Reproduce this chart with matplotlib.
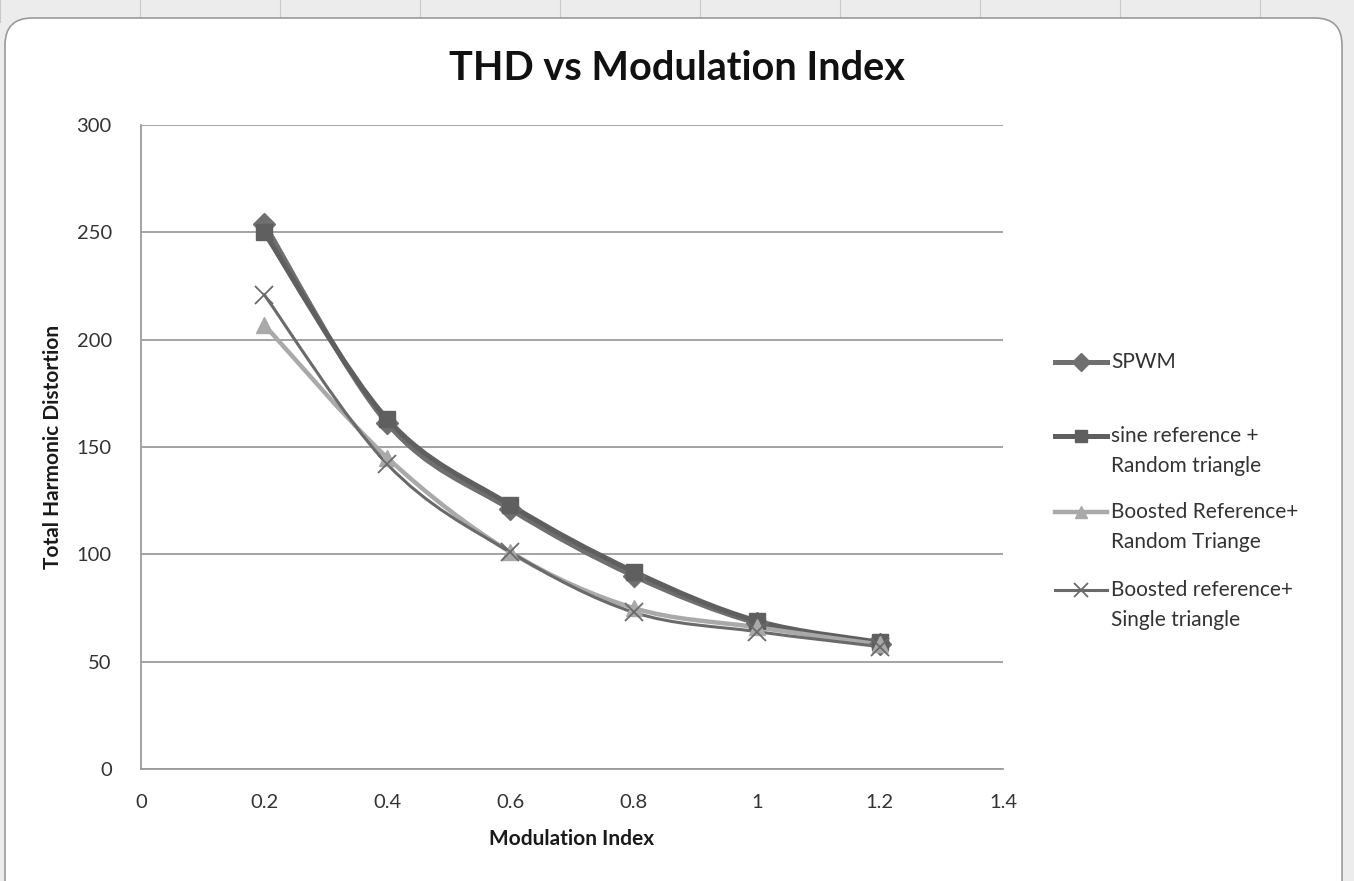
import numpy as np
import matplotlib
matplotlib.use("Agg")
import matplotlib.pyplot as plt
from matplotlib.path import Path
from matplotlib.patches import PathPatch, FancyBboxPatch
from matplotlib.lines import Line2D

plt.rcParams["font.family"] = ["Lato", "DejaVu Sans"]

mod_index = [0.2, 0.4, 0.6, 0.8, 1.0, 1.2]
spwm = [254, 161, 121, 90, 68, 58]
sine_random = [250, 163, 123, 92, 69, 59]
boosted_random = [207, 145, 101, 75, 66, 58]
boosted_single = [221, 142, 101, 73, 64, 57]

labels = [
    "SPWM",
    "sine reference +\nRandom triangle",
    "Boosted Reference+\nRandom Triange",
    "Boosted reference+\nSingle triangle",
]
x_ticks = [0, 0.2, 0.4, 0.6, 0.8, 1, 1.2, 1.4]
y_ticks = [0, 50, 100, 150, 200, 250, 300]


def smooth_path(xs, ys):
    # excel style smoothed line: catmull-rom as cubic bezier pieces
    pts = np.column_stack([xs, ys]).astype(float)
    verts = [pts[0]]
    codes = [Path.MOVETO]
    n = len(pts)
    for i in range(n - 1):
        p0 = pts[max(i - 1, 0)]
        p1 = pts[i]
        p2 = pts[i + 1]
        p3 = pts[min(i + 2, n - 1)]
        c1 = p1 + (p2 - p0) / 6.0
        c2 = p2 - (p3 - p1) / 6.0
        verts += [c1, c2, p2]
        codes += [Path.CURVE4] * 3
    return Path(verts, codes)


W, H = 1354, 881
fig = plt.figure(figsize=(W / 100, H / 100), dpi=100)
fig.patch.set_facecolor("#ececec")

# spreadsheet strip behind the chart object
for gx in np.arange(0, W, 140):
    fig.add_artist(Line2D([gx / W, gx / W], [1, 0.975], color="#c8c8c8",
                          lw=0.8, transform=fig.transFigure, zorder=-2))
frame = FancyBboxPatch((5 / W, -0.05), 1337 / W, 1.05 - 18 / H,
                       boxstyle="round,pad=0,rounding_size=0.02",
                       transform=fig.transFigure, facecolor="white",
                       edgecolor="#9a9a9a", lw=1.2, mutation_aspect=W / H,
                       zorder=-1)
fig.add_artist(frame)

ax = fig.add_axes([141 / W, 1 - 769 / H, 862 / W, 644 / H])
ax.set_facecolor("none")

series = [
    (spwm, "#6f6f6f", "D", 11, 3.6),
    (sine_random, "#5f5f5f", "s", 11, 3.6),
    (boosted_random, "#a9a9a9", "^", 11, 3.2),
    (boosted_single, "#6a6a6a", "x", 13, 2.2),
]

for vals, col, mk, ms, lw in series:
    ax.add_patch(PathPatch(smooth_path(mod_index, vals), facecolor="none",
                           edgecolor=col, lw=lw, capstyle="round", zorder=3))
    mew = 1.3 if mk == "x" else 1
    ax.plot(mod_index, vals, linestyle="none", marker=mk, ms=ms, color=col,
            mec=col, mew=mew, zorder=4)

ax.set_xlim(0, 1.4)
ax.set_ylim(0, 300)
ax.set_xticks(x_ticks)
ax.set_xticklabels([f"{t:g}" for t in x_ticks])
ax.set_yticks(y_ticks)
ax.yaxis.grid(True, color="#9c9c9c", lw=1.3)
ax.set_axisbelow(True)
for side in ["top", "right"]:
    ax.spines[side].set_visible(False)
for side in ["left", "bottom"]:
    ax.spines[side].set_color("#9c9c9c")
    ax.spines[side].set_linewidth(1.3)
ax.tick_params(length=0, labelsize=14.5, labelcolor="#333333")
ax.tick_params(axis="x", pad=18)
ax.tick_params(axis="y", pad=21)

ax.set_xlabel("Modulation Index", fontsize=15, fontweight="bold",
              color="#1a1a1a", labelpad=13)
ax.set_ylabel("Total Harmonic Distortion", fontsize=15, fontweight="bold",
              color="#1a1a1a", labelpad=10)

fig.text(677 / W, 1 - 68 / H, "THD vs Modulation Index", fontsize=28.5,
         fontweight="bold", ha="center", va="center", color="#111111")

# legend drawn by hand to keep Excel's spacing
entry_y = [362, 436, 512, 590]
line_gap = 30
for (vals, col, mk, ms, lw), lab, ey in zip(series, labels, entry_y):
    yf = 1 - ey / H
    mew = 1.3 if mk == "x" else 1
    fig.add_artist(Line2D([1055 / W, 1107 / W], [yf, yf], color=col, lw=lw,
                          transform=fig.transFigure))
    fig.add_artist(Line2D([1081 / W], [yf], color=col, marker=mk,
                          ms=ms * 0.8, mec=col, mew=mew, linestyle="none",
                          transform=fig.transFigure))
    for k, part in enumerate(lab.split("\n")):
        fig.text(1111 / W, 1 - (ey + k * line_gap) / H, part, fontsize=15,
                 color="#333333", ha="left", va="center")

fig.savefig("out.png", dpi=100, facecolor=fig.get_facecolor())
